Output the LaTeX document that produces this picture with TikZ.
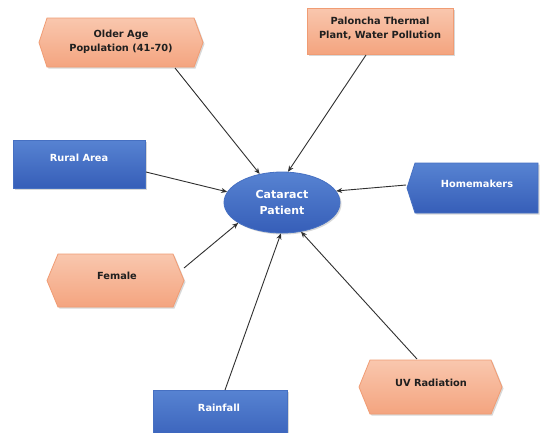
\documentclass[tikz,border=0pt]{standalone}
\usepackage{fontspec}
\setmainfont{DejaVu Sans}
\usetikzlibrary{shapes.geometric,arrows.meta,shadows}
\definecolor{orT}{HTML}{F9C7AE}
\definecolor{orB}{HTML}{F4A47F}
\definecolor{orD}{HTML}{F09C74}
\definecolor{blT}{HTML}{5783D2}
\definecolor{blB}{HTML}{365EB8}
\definecolor{blD}{HTML}{4670C2}
\definecolor{arr}{HTML}{303030}
\tikzset{
  shad/.style={drop shadow={shadow xshift=1.5pt,shadow yshift=-1.5pt,opacity=0.25,fill=black!60}},
  orshape/.style={top color=orT,bottom color=orB,draw=orD,line width=0.8pt,shad},
  blshape/.style={top color=blT,bottom color=blB,draw=blD,line width=0.8pt,shad},
  dtext/.style={font=\fontsize{9.8}{14.5}\selectfont\bfseries,text=black!88,align=center,inner sep=0pt},
  wtext/.style={font=\fontsize{9.8}{14.5}\selectfont\bfseries,text=white,align=center,inner sep=0pt},
  conn/.style={draw=arr,line width=0.9pt,-{Stealth[length=6pt,width=5pt]}}
}
\begin{document}
\begin{tikzpicture}[x=1pt,y=-1pt]
\clip (0,0) rectangle (540,432);
\fill[white] (0,0) rectangle (540,432);

% shapes
\path[orshape] (39,42.5) -- (47,18) -- (194,18) -- (203,42.5) -- (194,67) -- (47,67) -- cycle;
\path[orshape] (307,8) rectangle (453,54);
\path[blshape] (13,140) rectangle (145,188);
\path[blshape] (407,188) -- (415,163) -- (538,163) -- (538,213) -- (415,213) -- cycle;
\path[orshape] (47,280.5) -- (58,254) -- (173,254) -- (184,280.5) -- (173,307) -- (58,307) -- cycle;
\path[blshape] (153,390) rectangle (287,445);
\path[orshape] (359,387) -- (370,360) -- (491,360) -- (502,387) -- (491,414) -- (370,414) -- cycle;

% centre
\node[ellipse,blshape,minimum width=116pt,minimum height=61pt,inner sep=0pt,
      font=\fontsize{11}{15.5}\selectfont\bfseries,text=white,align=center] (cat) at (282,202.5) {Cataract\\Patient};

% texts
\node[dtext] (old) at (121,42) {Older Age\\Population (41-70)};
\node[dtext] (pal) at (380,28.5) {Paloncha Thermal\\Plant, Water Pollution};
\node[wtext] (rur) at (79,158) {Rural Area};
\node[wtext] (hom) at (477,184) {Homemakers};
\node[dtext] (fem) at (117,276) {Female};
\node[wtext] (rai) at (219,407.5) {Rainfall};
\node[dtext] (uvr) at (431,383) {UV Radiation};

% connector start points
\coordinate (o1) at (175,68);
\coordinate (p1) at (366,55);
\coordinate (r1) at (146,172);
\coordinate (h1) at (406,185);
\coordinate (f1) at (184,268);
\coordinate (ra1) at (225,390);
\coordinate (u1) at (417,359);

\draw[conn] (o1) -- (cat.128);
\draw[conn] (p1) -- (cat.79);
\draw[conn] (r1) -- (cat.169);
\draw[conn] (h1) -- (cat.12);
\draw[conn] (f1) -- (cat.205);
\draw[conn] (ra1) -- (cat.268);
\draw[conn] (u1) -- (cat.303);
\end{tikzpicture}
\end{document}
